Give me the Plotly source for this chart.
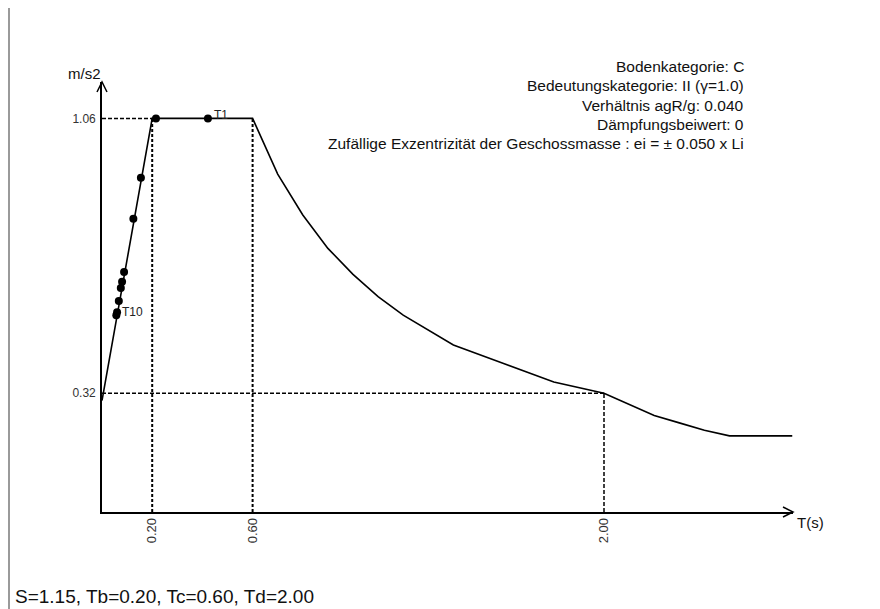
import plotly.graph_objects as go

# ---------------- data ----------------
# design response spectrum (period T in s, Se in m/s2)
spec_T = [0.0, 0.2, 0.6, 0.7, 0.8, 0.9, 1.0, 1.1, 1.2, 1.4, 1.6, 1.8, 2.0, 2.1, 2.2, 2.3, 2.4, 2.5, 2.75]
spec_Se = [0.30, 1.06, 1.06, 0.91, 0.80, 0.71, 0.64, 0.58, 0.53, 0.45, 0.40, 0.35, 0.32, 0.29, 0.26, 0.24, 0.22, 0.205, 0.205]

# modal periods
mode_T = [0.422, 0.215, 0.155, 0.125, 0.088, 0.080, 0.075, 0.067, 0.060, 0.057]
mode_Se = [1.06, 1.06, 0.90, 0.79, 0.646, 0.62, 0.603, 0.568, 0.538, 0.53]
mode_names = ["T1", "T2", "T3", "T4", "T5", "T6", "T7", "T8", "T9", "T10"]
labelled_modes = ["T1", "T10"]

# characteristic periods / levels
Tb, Tc, Td = 0.20, 0.60, 2.00
Se_plateau = 1.06
Se_Td = 0.32

x_tickvals = [Tb, Tc, Td]
x_ticktext = ["0.20", "0.60", "2.00"]
y_tickvals = [Se_Td, Se_plateau]
y_ticktext = ["0.32", "1.06"]

x_max = 2.753
y_max = 1.158

info_lines = [
    "Bodenkategorie: C",
    "Bedeutungskategorie: II (γ=1.0)",
    "Verhältnis agR/g: 0.040",
    "Dämpfungsbeiwert: 0",
    "Zufällige Exzentrizität der Geschossmasse : ei = ± 0.050 x Li",
]
footer_text = "S=1.15, Tb=0.20, Tc=0.60, Td=2.00"

FONT = "Liberation Sans, Arial, sans-serif"

# ---------------- figure ----------------
fig = go.Figure()

dash_heavy = dict(color="black", width=2, dash="3px,2px")
dash_light = dict(color="black", width=1.5, dash="4px,2px")

# reference (dashed) lines
fig.add_trace(go.Scatter(x=[0, Tb], y=[Se_plateau, Se_plateau], mode="lines", line=dash_light, hoverinfo="skip"))
fig.add_trace(go.Scatter(x=[Tb, Tb], y=[0, Se_plateau], mode="lines", line=dash_heavy, hoverinfo="skip"))
fig.add_trace(go.Scatter(x=[Tc, Tc], y=[0, Se_plateau], mode="lines", line=dash_heavy, hoverinfo="skip"))
fig.add_trace(go.Scatter(x=[0, Td], y=[Se_Td, Se_Td], mode="lines", line=dash_light, hoverinfo="skip"))
fig.add_trace(go.Scatter(x=[Td, Td], y=[0, Se_Td], mode="lines", line=dash_light, hoverinfo="skip"))

# spectrum
fig.add_trace(go.Scatter(x=spec_T, y=spec_Se, mode="lines",
                         line=dict(color="black", width=1.6), cliponaxis=False))

# modes
fig.add_trace(go.Scatter(x=mode_T, y=mode_Se, mode="markers",
                         marker=dict(color="black", size=8), text=mode_names, cliponaxis=False))

annotations = []
for name, t, s in zip(mode_names, mode_T, mode_Se):
    if name in labelled_modes:
        annotations.append(dict(x=t, y=s, xref="x", yref="y", text=name, showarrow=False,
                                xanchor="left", yanchor="middle", xshift=4, yshift=3,
                                font=dict(family=FONT, size=12, color="#222")))

# page is drawn with an 8px body margin: positions below are in screen pixels
def py(p):  # screen pixel y -> paper y
    return (512 - p) / 430.0

def px(p):  # screen pixel x -> paper x
    return (p - 102) / 691.0

for i, line in enumerate(info_lines):
    annotations.append(dict(x=px(746), y=py(67 + 19 * i), xref="paper", yref="paper", text=line,
                            showarrow=False, xanchor="right", yanchor="middle",
                            font=dict(family=FONT, size=15.5, color="#111")))

# axis titles
annotations.append(dict(x=px(84), y=py(73), xref="paper", yref="paper", text="m/s2", showarrow=False,
                        xanchor="center", yanchor="middle", font=dict(family=FONT, size=15, color="#111")))
annotations.append(dict(x=px(795), y=py(522), xref="paper", yref="paper", text="T(s)", showarrow=False,
                        xanchor="left", yanchor="middle", font=dict(family=FONT, size=15, color="#111")))
# footer
annotations.append(dict(x=px(13), y=py(596), xref="paper", yref="paper", text=footer_text, showarrow=False,
                        xanchor="left", yanchor="middle", font=dict(family=FONT, size=19, color="#111")))

shapes = [
    # y axis arrow head
    dict(type="path", xref="paper", yref="paper", xsizemode="pixel", ysizemode="pixel",
         xanchor=0, yanchor=1, path="M-5,-10 L0,0 L5,-10", line=dict(color="black", width=1.5)),
    # x axis arrow head
    dict(type="path", xref="paper", yref="paper", xsizemode="pixel", ysizemode="pixel",
         xanchor=1, yanchor=0, path="M-10,5 L0,0 L-10,-5", line=dict(color="black", width=1.5)),
    # left frame border
    dict(type="line", xref="paper", yref="paper", x0=px(9), x1=px(9), y0=py(0), y1=py(609),
         line=dict(color="#9a9a9a", width=2)),
]

fig.update_layout(
    width=872, height=601,
    margin=dict(l=94, r=87, t=74, b=97),
    paper_bgcolor="white", plot_bgcolor="white",
    showlegend=False,
    annotations=annotations,
    shapes=shapes,
    font=dict(family=FONT, color="#222"),
    xaxis=dict(range=[0, x_max], showgrid=False, zeroline=False, showline=True,
               linecolor="black", linewidth=1.6, tickvals=x_tickvals, ticktext=x_ticktext,
               tickangle=-90, ticks="", ticklabelstandoff=-1,
               tickfont=dict(family=FONT, size=13, color="#333")),
    yaxis=dict(range=[0, y_max], showgrid=False, zeroline=False, showline=True,
               linecolor="black", linewidth=1.6, tickvals=y_tickvals, ticktext=y_ticktext,
               ticks="", ticklabelstandoff=2,
               tickfont=dict(family=FONT, size=12, color="#333")),
)

fig.write_html("out.html")
